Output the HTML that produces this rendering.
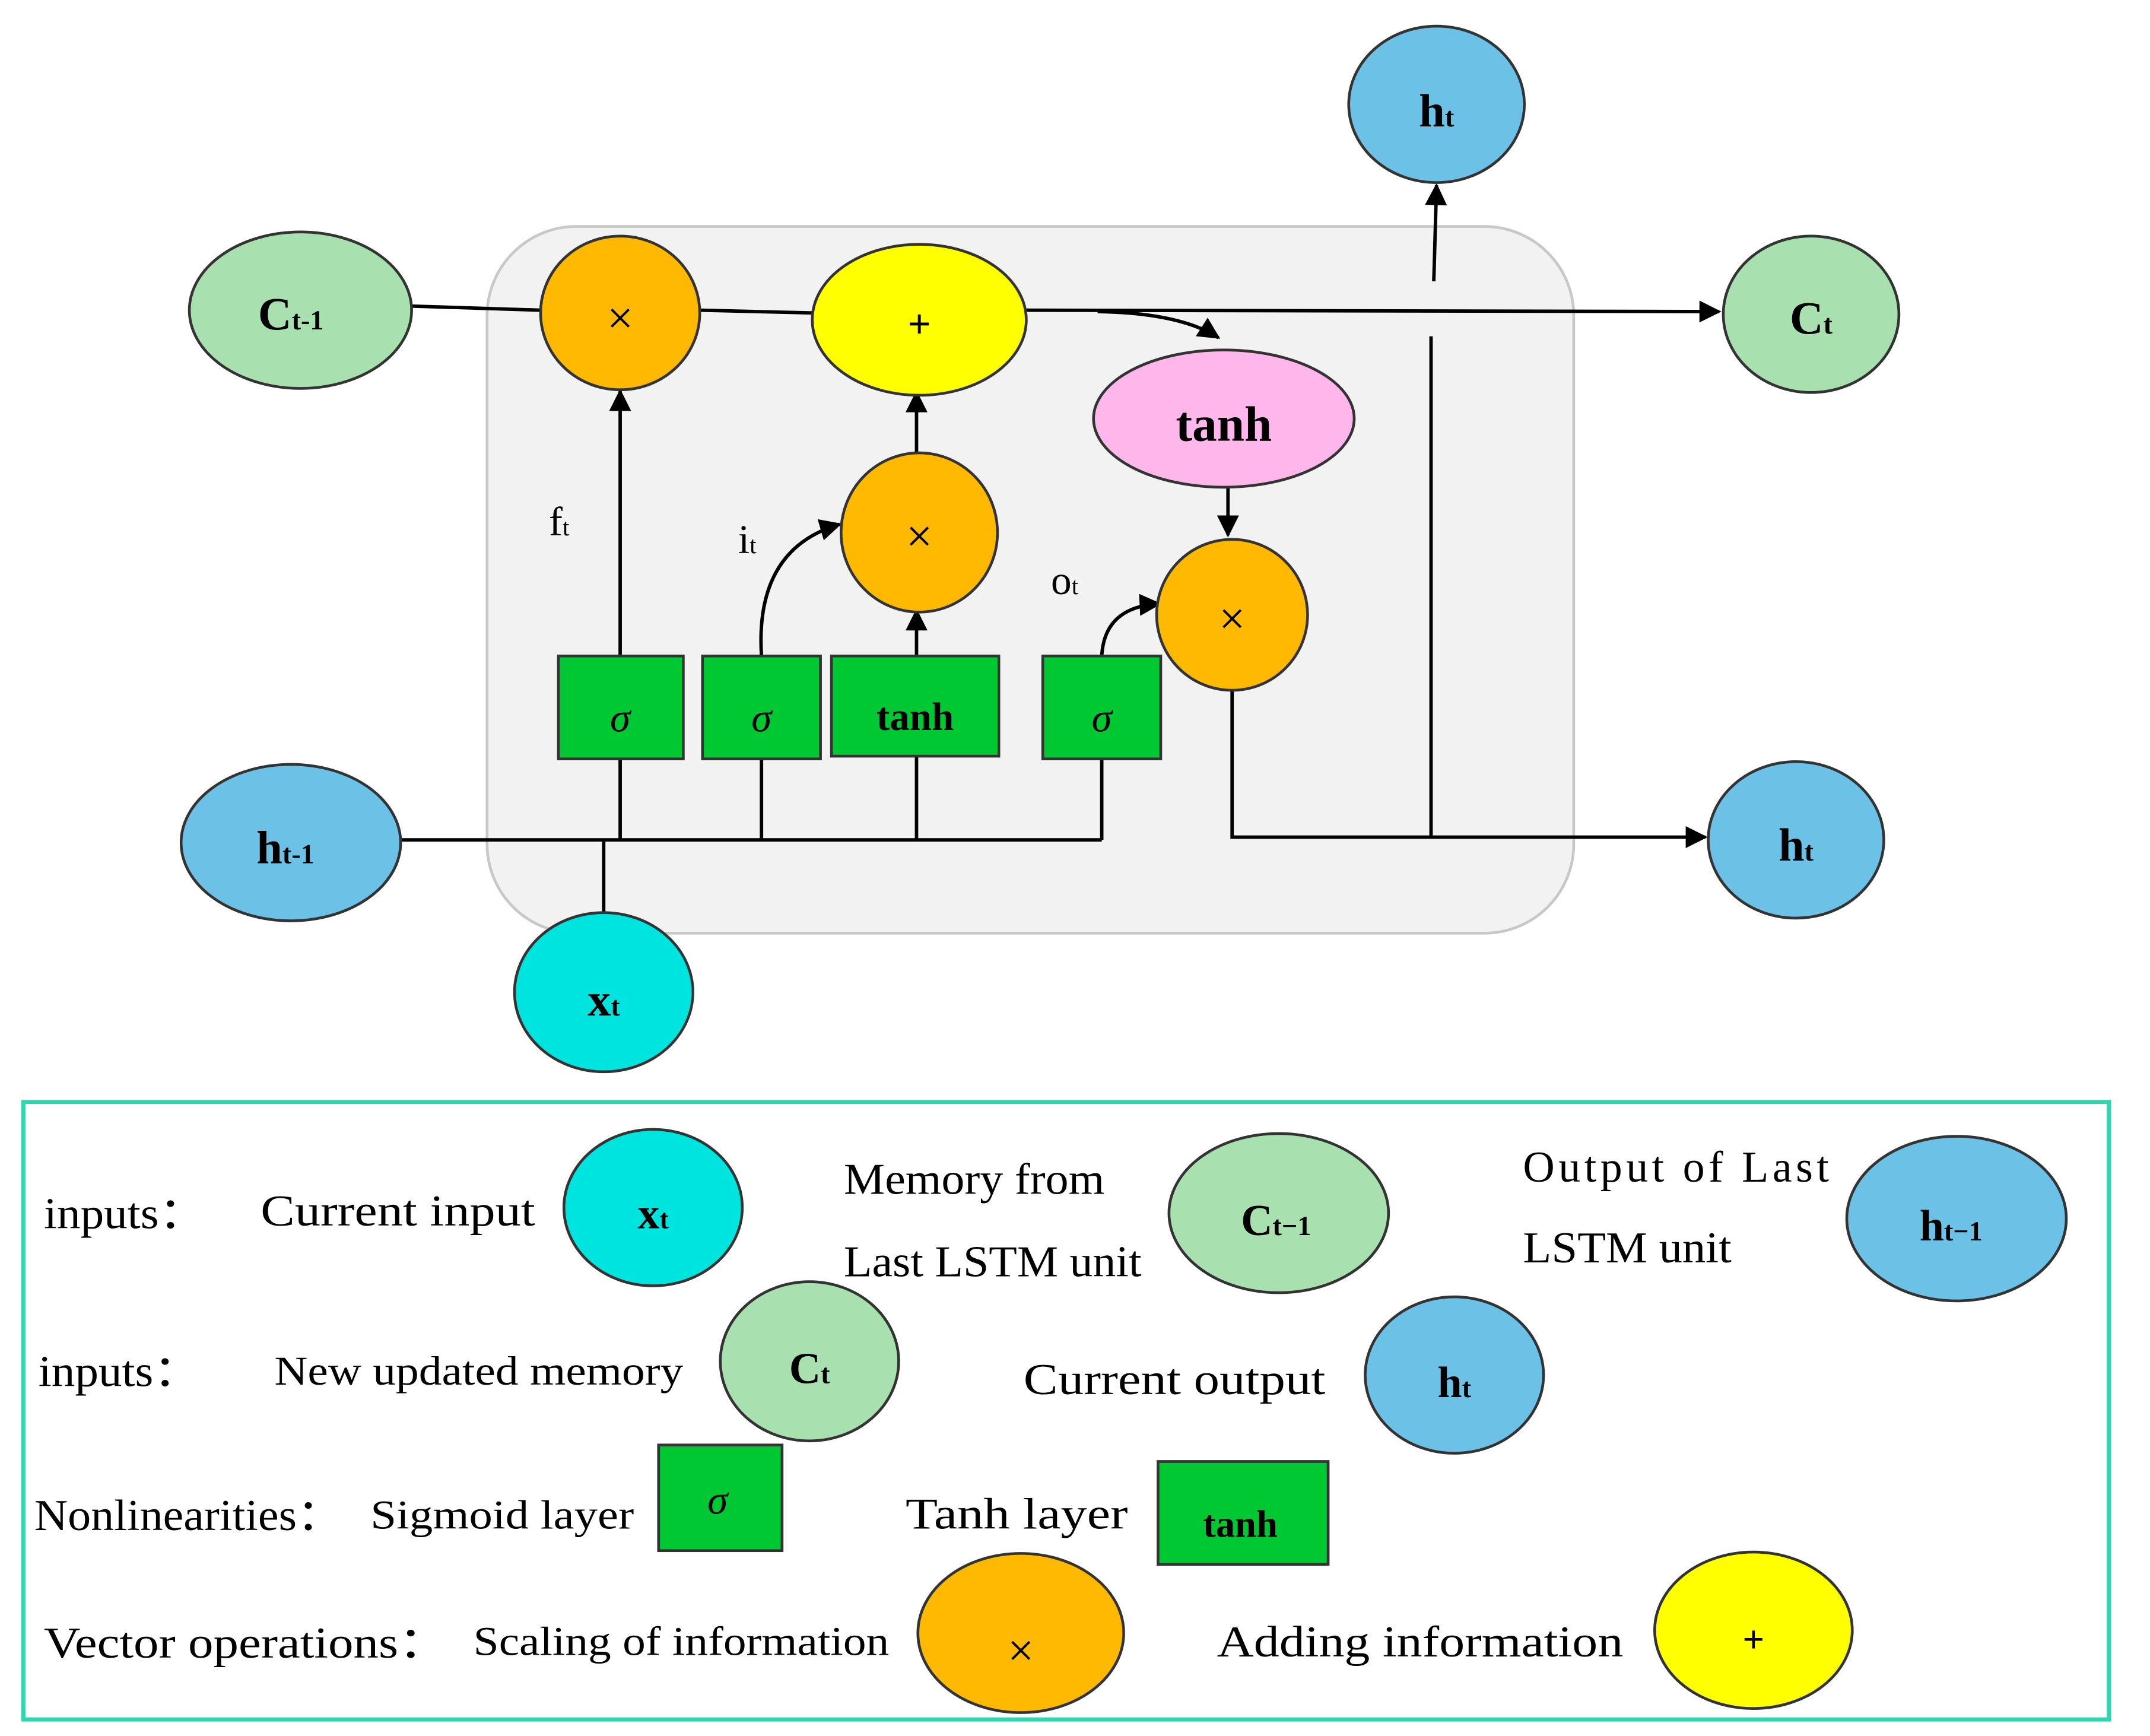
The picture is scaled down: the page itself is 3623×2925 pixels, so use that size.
<!DOCTYPE html>
<html><head><meta charset="utf-8"><style>
html,body{margin:0;padding:0;background:#fff;}
svg{display:block;}
text{font-family:"Liberation Serif",serif;}
</style></head><body>
<svg width="3623" height="2925" viewBox="0 0 1567 1265" xmlns="http://www.w3.org/2000/svg">
<defs>
<marker id="b" viewBox="0 0 10 10" refX="9" refY="5" markerWidth="20" markerHeight="16" orient="auto" markerUnits="userSpaceOnUse">
<path d="M0,0 L10,5 L0,10 z" fill="#000"/></marker>
</defs>
<rect width="1567" height="1265" fill="#fff"/>
<rect x="355" y="165" width="792" height="515" rx="65" fill="#f2f2f2" stroke="#c8c8c8" stroke-width="2"/>

<g stroke="#000" stroke-width="2.5" fill="none">
<line x1="300" y1="223" x2="394" y2="226"/>
<line x1="510" y1="226" x2="592" y2="228"/>
<line x1="748" y1="226" x2="1253" y2="227" marker-end="url(#b)"/>
<path d="M800,227 Q860,228 888,246" marker-end="url(#b)"/>
<line x1="895" y1="355" x2="895" y2="390" marker-end="url(#b)"/>
<line x1="452" y1="478" x2="452" y2="285" marker-end="url(#b)"/>
<path d="M555,478 Q550,400 612,382" marker-end="url(#b)"/>
<line x1="668" y1="478" x2="668" y2="445" marker-end="url(#b)"/>
<line x1="668" y1="330" x2="668" y2="286" marker-end="url(#b)"/>
<path d="M803,478 Q805,442 845,440" marker-end="url(#b)"/>
<polyline points="898,503 898,610 1243,610" marker-end="url(#b)"/>
<line x1="1043" y1="610" x2="1043" y2="245"/>
<line x1="1045" y1="205" x2="1047" y2="135" marker-end="url(#b)"/>
<line x1="292" y1="612" x2="803" y2="612"/>
<line x1="452" y1="553" x2="452" y2="612"/>
<line x1="555" y1="553" x2="555" y2="612"/>
<line x1="668" y1="551" x2="668" y2="612"/>
<line x1="803" y1="553" x2="803" y2="612"/>
<line x1="440" y1="665" x2="440" y2="612"/>
</g>

<g stroke="#333" stroke-width="2">
<ellipse cx="219" cy="226" rx="81" ry="57" fill="#a9e0b0"/>
<ellipse cx="452" cy="228" rx="58" ry="56" fill="#ffb900"/>
<ellipse cx="670" cy="233" rx="78" ry="55" fill="#ffff00"/>
<ellipse cx="892" cy="305" rx="95" ry="50" fill="#ffb6ea"/>
<ellipse cx="670" cy="388" rx="57" ry="58" fill="#ffb900"/>
<ellipse cx="898" cy="448" rx="55" ry="55" fill="#ffb900"/>
<ellipse cx="1047" cy="76" rx="64" ry="57" fill="#6cc1e7"/>
<ellipse cx="1320" cy="229" rx="64" ry="57" fill="#a9e0b0"/>
<ellipse cx="1309" cy="612" rx="64" ry="57" fill="#6cc1e7"/>
<ellipse cx="212" cy="614" rx="80" ry="57" fill="#6cc1e7"/>
<ellipse cx="440" cy="723" rx="65" ry="58" fill="#00e4e0"/>
<rect x="407" y="478" width="91" height="75" fill="#00c832"/>
<rect x="512" y="478" width="86" height="75" fill="#00c832"/>
<rect x="606" y="478" width="122" height="73" fill="#00c832"/>
<rect x="760" y="478" width="86" height="75" fill="#00c832"/>
</g>

<g font-size="34" font-weight="bold" text-anchor="middle" fill="#000">
<text x="212" y="240">C<tspan font-size="20">t-1</tspan></text>
<text x="1047" y="92">h<tspan font-size="20">t</tspan></text>
<text x="1320" y="243">C<tspan font-size="20">t</tspan></text>
<text x="1309" y="627">h<tspan font-size="20">t</tspan></text>
<text x="208" y="629">h<tspan font-size="20">t-1</tspan></text>
<text x="440" y="740">x<tspan font-size="20">t</tspan></text>
<text x="892" y="321" font-size="36">tanh</text>
<text x="667" y="532" font-size="29">tanh</text>
</g>
<g font-size="34" text-anchor="middle" fill="#000">
<text x="452" y="243">×</text>
<text x="670" y="246" font-weight="bold" font-size="30">+</text>
<text x="670" y="402">×</text>
<text x="898" y="462">×</text>
<text x="452" y="533" font-style="italic" font-size="30">σ</text>
<text x="555" y="533" font-style="italic" font-size="30">σ</text>
<text x="803" y="533" font-style="italic" font-size="30">σ</text>
</g>
<g font-size="30" fill="#000">
<text x="400" y="390">f<tspan font-size="18">t</tspan></text>
<text x="538" y="403">i<tspan font-size="18">t</tspan></text>
<text x="766" y="433">o<tspan font-size="18">t</tspan></text>
</g>

<rect x="17" y="803" width="1520" height="450" fill="none" stroke="#2fd6b0" stroke-width="3"/>
<g stroke="#333" stroke-width="2">
<ellipse cx="476" cy="880" rx="65" ry="57" fill="#00e4e0"/>
<ellipse cx="932" cy="884" rx="80" ry="58" fill="#a9e0b0"/>
<ellipse cx="1426" cy="888" rx="80" ry="60" fill="#6cc1e7"/>
<ellipse cx="590" cy="992" rx="65" ry="58" fill="#a9e0b0"/>
<ellipse cx="1060" cy="1002" rx="65" ry="57" fill="#6cc1e7"/>
<rect x="480" y="1053" width="90" height="77" fill="#00c832"/>
<rect x="844" y="1065" width="124" height="75" fill="#00c832"/>
<ellipse cx="744" cy="1190" rx="75" ry="58" fill="#ffb900"/>
<ellipse cx="1278" cy="1188" rx="72" ry="57" fill="#ffff00"/>
</g>
<g font-size="32" font-weight="bold" text-anchor="middle" fill="#000">
<text x="476" y="895">x<tspan font-size="20">t</tspan></text>
<text x="930" y="900">C<tspan font-size="20">t−1</tspan></text>
<text x="1422" y="904">h<tspan font-size="20">t−1</tspan></text>
<text x="590" y="1008">C<tspan font-size="20">t</tspan></text>
<text x="1060" y="1018">h<tspan font-size="20">t</tspan></text>
<text x="904" y="1120" font-size="28">tanh</text>
<text x="1278" y="1204" font-size="28">+</text>
</g>
<g text-anchor="middle" fill="#000" font-size="30">
<text x="523" y="1103" font-style="italic">σ</text>
<text x="744" y="1214" font-size="34">×</text>
</g>
<g font-size="32" fill="#000">
<text x="32" y="895" textLength="118" lengthAdjust="spacingAndGlyphs">inputs：</text>
<text x="190" y="893" textLength="200" lengthAdjust="spacingAndGlyphs">Current input</text>
<text x="615" y="870" textLength="190" lengthAdjust="spacingAndGlyphs">Memory from</text>
<text x="615" y="930" textLength="217" lengthAdjust="spacingAndGlyphs">Last LSTM unit</text>
<text x="1110" y="861" textLength="223" lengthAdjust="spacing">Output of Last</text>
<text x="1110" y="920" textLength="152" lengthAdjust="spacingAndGlyphs">LSTM unit</text>
<text x="28" y="1010" textLength="118" lengthAdjust="spacingAndGlyphs">inputs：</text>
<text x="200" y="1009" font-size="30" textLength="298" lengthAdjust="spacingAndGlyphs">New updated memory</text>
<text x="746" y="1016" textLength="220" lengthAdjust="spacingAndGlyphs">Current output</text>
<text x="25" y="1115" textLength="225" lengthAdjust="spacingAndGlyphs">Nonlinearities：</text>
<text x="270" y="1114" font-size="30" textLength="192" lengthAdjust="spacingAndGlyphs">Sigmoid layer</text>
<text x="660" y="1114" textLength="162" lengthAdjust="spacingAndGlyphs">Tanh layer</text>
<text x="32" y="1208" textLength="295" lengthAdjust="spacingAndGlyphs">Vector operations：</text>
<text x="345" y="1206" font-size="30" textLength="303" lengthAdjust="spacingAndGlyphs">Scaling of information</text>
<text x="887" y="1207" textLength="296" lengthAdjust="spacingAndGlyphs">Adding information</text>
</g>
</svg>
</body></html>
